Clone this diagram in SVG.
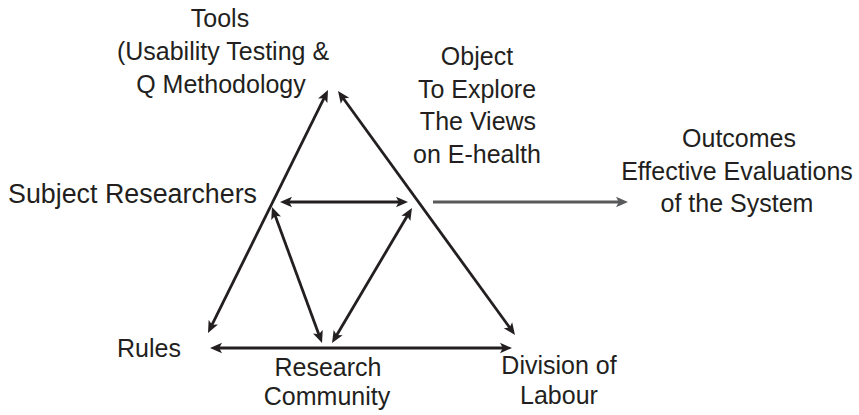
<svg xmlns="http://www.w3.org/2000/svg" width="859" height="415" viewBox="0 0 859 415">
<style>
text{font-family:"Liberation Sans",Arial,sans-serif;font-size:25px;fill:#231f20;text-anchor:middle}
.big{font-size:27px;text-anchor:start}
.st{text-anchor:start}
.ln{stroke:#231f20;stroke-width:2.8;fill:none;marker-start:url(#ah);marker-end:url(#ah)}
.gr{stroke:#58595b;stroke-width:2.8;fill:none;marker-end:url(#ahg)}
</style>
<defs>
<marker id="ah" viewBox="0 -6 13 12" markerWidth="13" markerHeight="12" refX="5" refY="0" markerUnits="userSpaceOnUse" orient="auto-start-reverse">
<path d="M0,-5.2 L12,0 L0,5.2 L2.8,0 Z" fill="#231f20"/>
</marker>
<marker id="ahg" viewBox="0 -6 13 12" markerWidth="13" markerHeight="12" refX="5" refY="0" markerUnits="userSpaceOnUse" orient="auto">
<path d="M0,-5.2 L12,0 L0,5.2 L2.8,0 Z" fill="#58595b"/>
</marker>
</defs>
<g id="connectors">
<line class="ln" x1="211.1" y1="326.7" x2="324.9" y2="96.3"/>
<line class="ln" x1="342.1" y1="96.7" x2="510.9" y2="329.3"/>
<line class="ln" x1="287" y1="202" x2="401" y2="202"/>
<line class="ln" x1="274.4" y1="213.6" x2="319.6" y2="336.4"/>
<line class="ln" x1="408.4" y1="214" x2="335.6" y2="337"/>
<line class="ln" x1="217" y1="348" x2="505" y2="348"/>
<line class="gr" x1="433" y1="202" x2="621" y2="202"/>
</g>
<g id="tools">
<text x="220" y="27">Tools</text>
<text x="223" y="60">(Usability Testing &amp;</text>
<text x="221" y="93">Q Methodology</text>
</g>
<g id="object">
<text x="477" y="65">Object</text>
<text x="477" y="98">To Explore</text>
<text x="478" y="130">The Views</text>
<text x="477" y="163">on E-health</text>
</g>
<g id="outcomes">
<text x="739" y="147">Outcomes</text>
<text x="737" y="180">Effective Evaluations</text>
<text x="737" y="212">of the System</text>
</g>
<g id="subject">
<text class="big" x="8" y="203" textLength="249" lengthAdjust="spacingAndGlyphs">Subject Researchers</text>
</g>
<g id="rules">
<text class="st" x="117" y="357">Rules</text>
</g>
<g id="community">
<text x="328" y="376">Research</text>
<text x="327" y="405">Community</text>
</g>
<g id="division">
<text x="559" y="374">Division of</text>
<text x="559" y="404">Labour</text>
</g>
</svg>
